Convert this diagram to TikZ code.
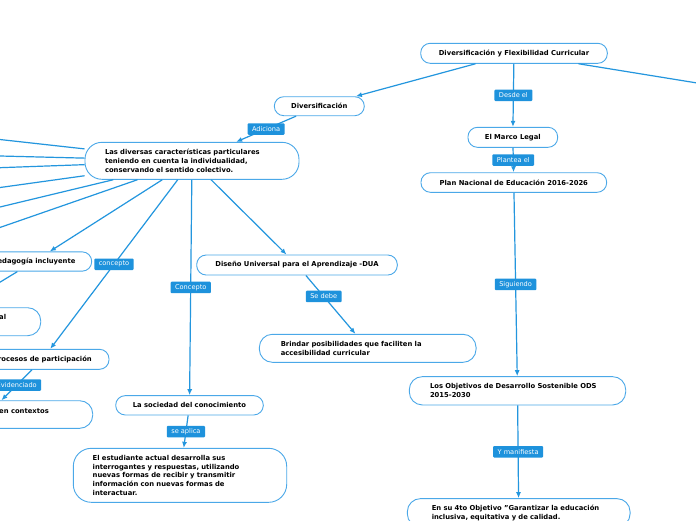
\documentclass[tikz,border=0pt]{standalone}
\usepackage{fontspec}
\setmainfont{DejaVu Sans}
\usetikzlibrary{arrows.meta,calc}
\definecolor{edgeblue}{RGB}{35,150,222}
\definecolor{labblue}{RGB}{30,146,220}
\definecolor{boxblue}{RGB}{75,168,232}
\tikzset{
  box/.style={draw=boxblue, line width=0.9pt, fill=white, rounded corners=9.5pt,
    font=\fontsize{6.8}{8.7}\selectfont\bfseries, inner sep=0pt, align=center},
  tallbox/.style={box, align=left, rounded corners=13pt},
  lab/.style={fill=labblue, text=white, font=\fontsize{6.6}{8}\selectfont,
    inner xsep=4.5pt, inner ysep=0pt, minimum height=11.5pt, rounded corners=1pt},
  conn/.style={draw=edgeblue, line width=1.2pt, -{Latex[length=6pt,width=5pt]}},
  cuttext/.style={font=\fontsize{6.8}{8.7}\selectfont\bfseries, inner sep=0pt},
}
\begin{document}
\begin{tikzpicture}[x=1pt,y=-1pt]
\useasboundingbox (0,0) rectangle (696,520);
\fill[white] (0,0) rectangle (696,520);
\clip (0,0) rectangle (696,520);

% nodes
\node[box, minimum width=186.6pt, minimum height=20pt] (top) at (514,53.3) {Diversificación y Flexibilidad Curricular};
\node[box, minimum width=90pt, minimum height=19pt] (div) at (319.3,106.2) {Diversificación};
\node[box, minimum width=89.7pt, minimum height=20pt] (marco) at (512.8,137.3) {El Marco Legal};
\node[box, minimum width=185.7pt, minimum height=19.6pt] (plan) at (513.8,182.5) {Plan Nacional de Educación 2016-2026};
\node[tallbox, rounded corners=17pt, inner xsep=20pt, text width=174pt, minimum height=37pt] (main) at (192,160.8)
  {Las diversas características particulares\\ teniendo en cuenta la individualidad,\\ conservando el sentido colectivo.};
\node[box, minimum width=200.6pt, minimum height=20pt] (dua) at (297,265) {Diseño Universal para el Aprendizaje -DUA};
\node[tallbox, inner xsep=21.4pt, text width=173.9pt, minimum height=28pt] (brindar) at (367.7,348.3)
  {Brindar posibilidades que faciliten la\\ accesibilidad curricular};
\node[box, minimum width=147.6pt, minimum height=19.3pt] (soc) at (189.5,405.3) {La sociedad del conocimiento};
\node[tallbox, rounded corners=18pt, inner xsep=19.4pt, text width=174.6pt, minimum height=54pt] (est) at (180,475.3)
  {El estudiante actual desarrolla sus\\ interrogantes y respuestas, utilizando\\ nuevas formas de recibir y transmitir\\ información con nuevas formas de\\ interactuar.};
\node[tallbox, inner xsep=20.7pt, text width=175pt, minimum height=28.3pt] (ods) at (517.5,390.8)
  {Los Objetivos de Desarrollo Sostenible ODS\\ 2015-2030};
\node[tallbox, inner xsep=24.4pt, text width=173.9pt, minimum height=28.3pt] (obj) at (518.7,512.8)
  {En su 4to Objetivo "Garantizar la educación\\ inclusiva, equitativa y de calidad.};
\node[box, minimum width=115.4pt, minimum height=19.3pt] (ped) at (34,261.5) {Pedagogía incluyente};
\node[box, minimum width=133.2pt, minimum height=20pt] (proc) at (42.4,359.3) {Procesos de participación};
\node[box, rounded corners=13pt, minimum width=211.4pt, minimum height=28pt] (alnode) at (-65,321.7) {};
\node[box, rounded corners=13pt, minimum width=211pt, minimum height=27.6pt] (ctx) at (-12.8,414.5) {};
\node[cuttext, anchor=base east] (altxt) at (6.3,319.8) {al};
\node[cuttext, anchor=base east] (ctxtxt) at (49,413.2) {en contextos};

% off-canvas ends
\coordinate (l1) at (-20,137.3);
\coordinate (l2) at (-20,155.5);
\coordinate (l3) at (-20,168.4);
\coordinate (l4) at (-20,190.3);
\coordinate (l5) at (-20,211.8);
\coordinate (l6) at (-20,234.4);
\coordinate (rightc) at (760,93.2);

% connectors
\draw[conn] (top) -- (div);
\draw[conn] (top) -- (rightc);
\draw[conn] (top) -- node[lab]{Desde el} (marco);
\draw[conn] (marco) -- node[lab]{Plantea el} (plan);
\draw[conn] (plan) -- node[lab]{Siguiendo} (ods);
\draw[conn] (ods) -- node[lab]{Y manifiesta} (obj);
\draw[conn] (div) -- node[lab]{Adiciona} (main);
\foreach \c in {l1,l2,l3,l4,l5,l6} { \draw[conn] (main) -- (\c); }
\draw[conn] (main) -- (ped);
\draw[conn] (main) -- node[lab]{concepto} (proc);
\draw[conn] (main) -- node[lab]{Concepto} (soc);
\draw[conn] (main) -- (dua);
\draw[conn] (dua) -- node[lab,pos=0.36]{Se debe} (brindar);
\draw[conn] (soc) -- node[lab]{se aplica} (est);
\draw[conn] (proc) -- node[lab]{Evidenciado} (ctx);
\draw[conn] (ped) -- (alnode);
\end{tikzpicture}
\end{document}
